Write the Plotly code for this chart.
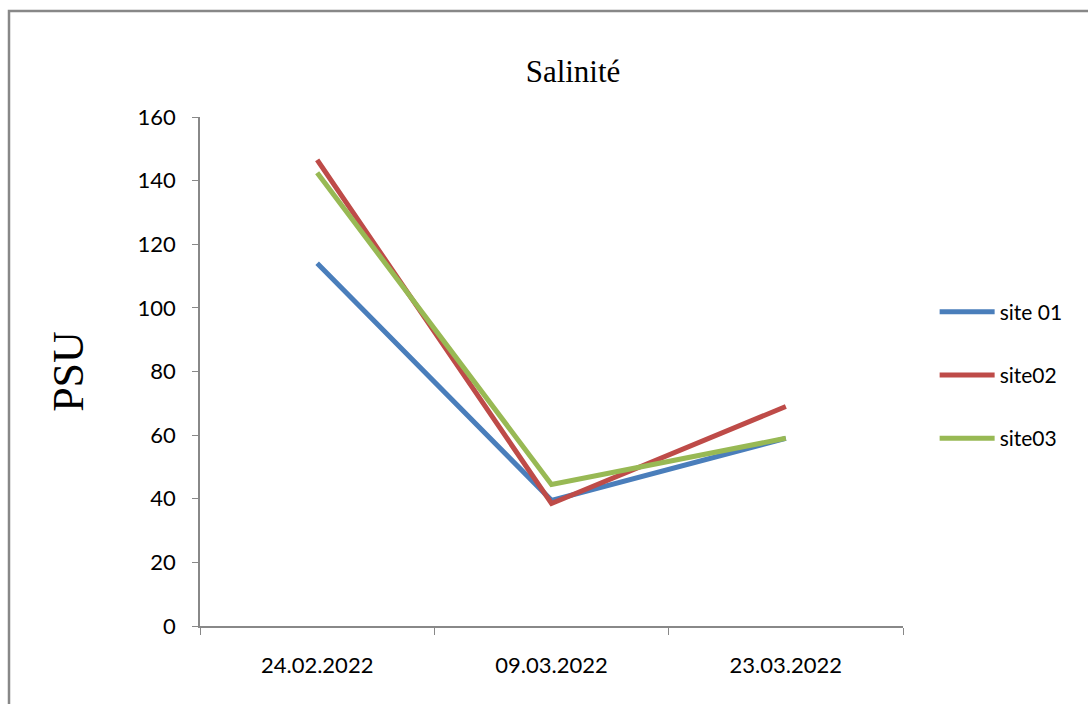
import plotly.graph_objects as go

# Sampling dates and salinity readings (PSU) per site
dates = ["24.02.2022", "09.03.2022", "23.03.2022"]
site01 = [114, 39.5, 59]
site02 = [146.5, 38.5, 69]
site03 = [142.5, 44.5, 59]
y_ticks = [0, 20, 40, 60, 80, 100, 120, 140, 160]

series = [
    ("site 01", site01, "#4A7EBB"),
    ("site02", site02, "#BE4B48"),
    ("site03", site03, "#98B954"),
]

W, H = 1088, 704
ml, mr, mt, mb = 200, 185, 117, 78
pw, ph = W - ml - mr, H - mt - mb

fig = go.Figure()
for i, (name, vals, color) in enumerate(series):
    fig.add_trace(go.Scatter(
        x=dates, y=vals, name=name, mode="lines",
        line=dict(color=color, width=5),
        legendgroup=f"g{i}",
    ))

def px_x(p):
    return (p - ml) / pw

def px_y(p):
    return (H - mb - p) / ph

tick_font = dict(family="Lato", size=22, color="black")

fig.update_layout(
    width=W, height=H,
    margin=dict(l=ml, r=mr, t=mt, b=mb),
    paper_bgcolor="white", plot_bgcolor="white",
    showlegend=True,
    title=dict(text="Salinité", x=573 / W, xanchor="center", y=1 - 71 / H, yanchor="middle",
               font=dict(family="Liberation Serif", size=31, color="black")),
    legend=dict(x=1.045, xanchor="left", y=px_y(375), yanchor="middle",
                font=dict(family="Lato", size=21, color="black"),
                tracegroupgap=33, itemwidth=55, bgcolor="rgba(0,0,0,0)"),
    xaxis=dict(type="category", tickson="boundaries", ticks="outside", ticklen=7,
               tickcolor="#888", showline=True, linecolor="#888", linewidth=1.5,
               showgrid=False, tickfont=tick_font, ticklabelstandoff=19,
               range=[-0.5, 2.5]),
    yaxis=dict(range=[0, 160], tickvals=y_ticks, ticks="outside", ticklen=6,
               tickcolor="#888", showline=True, linecolor="#888", linewidth=1.5,
               showgrid=False, zeroline=False, tickfont=tick_font,
               ticklabelstandoff=12,
               title=dict(text="PSU", standoff=40,
                          font=dict(family="Liberation Serif", size=44, color="black"))),
    shapes=[dict(type="rect", xref="paper", yref="paper",
                 x0=px_x(9), x1=px_x(W + 20), y0=px_y(H + 20), y1=px_y(11),
                 line=dict(color="#888", width=2.5), layer="below")],
)

fig.write_html("out.html")
